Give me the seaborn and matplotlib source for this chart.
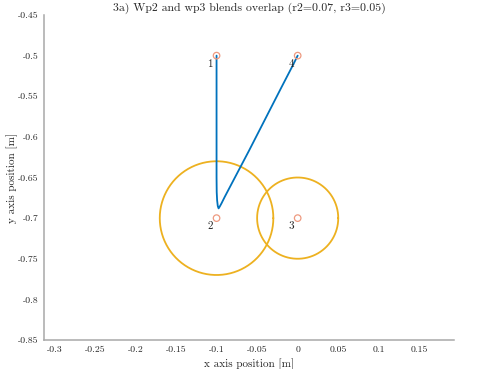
import numpy as np
import pandas as pd
import matplotlib
matplotlib.use("Agg")
import matplotlib.pyplot as plt
import seaborn as sns

# Data
wp_x = [-0.1, -0.1, 0.0, 0.0]
wp_y = [-0.5, -0.7, -0.7, -0.5]
wp_labels = ["1", "2", "3", "4"]
blend_centers_x = [-0.1, 0.0]
blend_centers_y = [-0.7, -0.7]
blend_radii = [0.07, 0.05]
path_x = [-0.1, -0.1, -0.1, -0.0998, -0.0993, -0.0985, -0.0975, -0.0962, -0.094, -0.09,
          -0.08, -0.06, -0.04, -0.02, -0.006, 0.0]
path_y = [-0.5, -0.6, -0.65, -0.668, -0.678, -0.685, -0.688, -0.686, -0.682, -0.674,
          -0.655, -0.617, -0.578, -0.539, -0.512, -0.5]
x_ticks = [-0.3, -0.25, -0.2, -0.15, -0.1, -0.05, 0, 0.05, 0.1, 0.15]
y_ticks = [-0.85, -0.8, -0.75, -0.7, -0.65, -0.6, -0.55, -0.5, -0.45]

sns.set_theme(style="white")
plt.rcParams["font.family"] = ["cmr10", "DejaVu Serif"]
plt.rcParams["axes.unicode_minus"] = False
plt.rcParams["mathtext.fontset"] = "cm"

fig = plt.figure(figsize=(5.02, 3.69), dpi=100)
ax = fig.add_axes([44 / 502, 1 - 340 / 369, 410 / 502, 325 / 369])

# blend circles
theta = np.linspace(0, 2 * np.pi, 361)
for cx, cy, r in zip(blend_centers_x, blend_centers_y, blend_radii):
    df_c = pd.DataFrame({"x": cx + r * np.cos(theta), "y": cy + r * np.sin(theta)})
    sns.lineplot(data=df_c, x="x", y="y", sort=False, estimator=None, ax=ax,
                 color="#EDB120", linewidth=1.3)

# path
df_p = pd.DataFrame({"x": path_x, "y": path_y})
sns.lineplot(data=df_p, x="x", y="y", sort=False, estimator=None, ax=ax,
             color="#0072BD", linewidth=1.3)

# waypoints
df_w = pd.DataFrame({"x": wp_x, "y": wp_y})
sns.scatterplot(data=df_w, x="x", y="y", ax=ax, marker="o", s=22,
                facecolors="none", edgecolor="#EE9A80", linewidth=0.9, zorder=5)
for x, y, lab in zip(wp_x, wp_y, wp_labels):
    ax.text(x - 0.008, y - 0.0105, lab, ha="center", va="center", fontsize=8,
            color="#222222", zorder=6)

ax.set_xlim(-0.3127, 0.1927)
ax.set_ylim(-0.85, -0.45)
ax.set_xticks(x_ticks)
ax.set_yticks(y_ticks)
ax.set_xticklabels([f"{v:g}" for v in x_ticks])
ax.set_yticklabels([f"{v:g}" for v in y_ticks])
ax.tick_params(direction="in", length=3, width=0.8, colors="#a0a0a0",
               labelcolor="#262626", labelsize=7, pad=4)
for s in ["top", "right"]:
    ax.spines[s].set_visible(False)
for s in ["left", "bottom"]:
    ax.spines[s].set_color("#a8a8a8")
    ax.spines[s].set_linewidth(1.1)
ax.set_xlabel("x axis position [m]", fontsize=8, color="#262626", labelpad=3)
ax.set_ylabel("y axis position [m]", fontsize=8, color="#262626", labelpad=0)
ax.set_title("3a) Wp2 and wp3 blends overlap (r2=0.07, r3=0.05)", fontsize=8.5,
             color="#262626", pad=3)
ax.set_facecolor("white")

fig.savefig("out.png", dpi=100, facecolor="white")
